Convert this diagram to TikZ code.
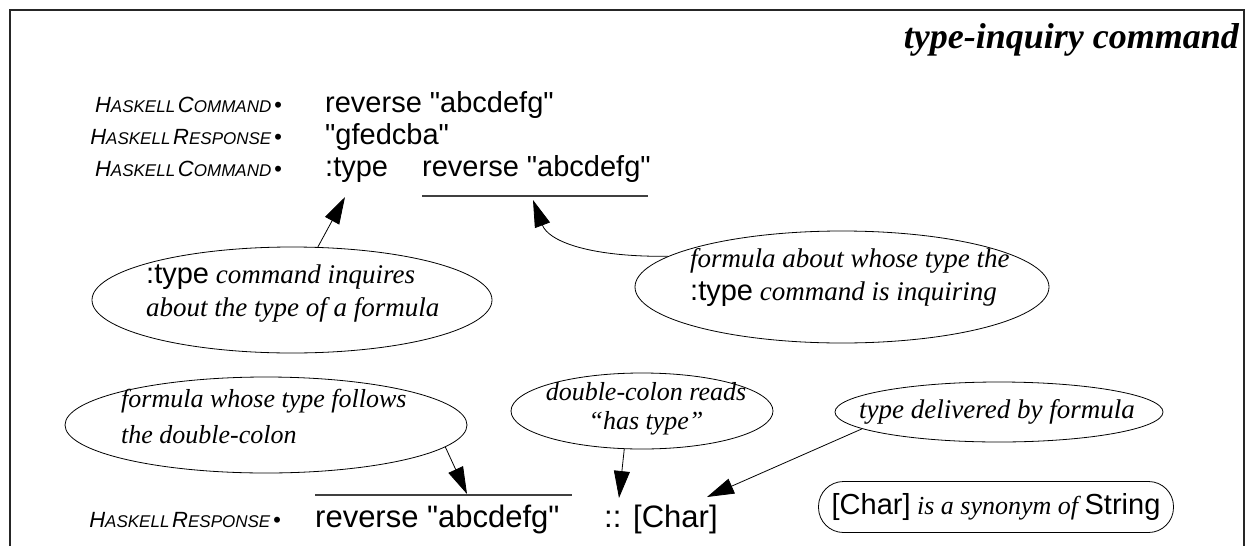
\documentclass[tikz,border=0pt]{standalone}
\usepackage{fontspec}
\setmainfont{Liberation Serif}
\setsansfont{Liberation Sans}[Ligatures=TeXOff]
\usetikzlibrary{shapes.geometric,arrows.meta,calc}
\newcommand{\bigc}[1]{{\fontsize{22}{22}\selectfont #1}}
\newcommand{\smc}[1]{{\fontsize{17}{17}\selectfont #1}}
\newcommand{\HCmd}{\bigc{H}\smc{ASKELL} \bigc{C}\smc{OMMAND} \bigc{•}}
\newcommand{\HRsp}{\bigc{H}\smc{ASKELL} \bigc{R}\smc{ESPONSE} \bigc{•}}
\newcommand{\code}[1]{{\sffamily\upshape\fontsize{29}{29}\selectfont #1}}
\begin{document}
\begin{tikzpicture}[x=1pt,y=-1pt,
  frame/.style={line width=1.2pt,draw=black!85},
  lbl/.style={inner sep=0pt,anchor=base east,font=\sffamily\itshape},
  main/.style={inner sep=0pt,anchor=base west,font=\sffamily\fontsize{29}{29}\selectfont},
  mainb/.style={main,font=\sffamily\fontsize{31}{31}\selectfont},
  bubble/.style={ellipse,draw,line width=0.8pt,inner sep=0pt},
  btext/.style={inner sep=0pt,font=\itshape\fontsize{27}{33}\selectfont},
  arr/.style={line width=0.8pt,-{Triangle[length=27pt,width=16pt]}},
  bar/.style={line width=1.2pt,draw=black!75}]
\useasboundingbox (0,0) rectangle (1249,546);
\draw[frame] (10,546) -- (10,10) -- (1244,10) -- (1244,546);
\node[inner sep=0pt,anchor=base east,font=\bfseries\itshape\fontsize{36}{36}\selectfont] (title) at (1239,48) {type-inquiry command};
% rows
\node[lbl] (l1) at (282,112) {\HCmd};
\node[main] (c1) at (325,112) {reverse "abcdefg"};
\node[lbl] (l2) at (282,144) {\HRsp};
\node[main] (c2) at (325,144) {"gfedcba"};
\node[lbl] (l3) at (282,176) {\HCmd};
\node[main] (ty) at (325,176) {:type};
\node[main] (c3) at (422,176) {reverse "abcdefg"};
\draw[bar] (422,196) -- (648,196);
% ellipses
\node[bubble,minimum width=400pt,minimum height=106pt] (eA) at (292,300) {};
\node[btext,align=left,anchor=west] (tA) at (146,294) {\code{:type} command inquires\\about the type of a formula};
\node[bubble,minimum width=414pt,minimum height=112pt] (eB) at (842,287) {};
\node[btext,align=left,anchor=west] (tB) at (690,277) {formula about whose type the\\\code{:type} command is inquiring};
\node[bubble,minimum width=402pt,minimum height=96pt] (eC) at (266,425) {};
\node[btext,align=left,anchor=west,font=\itshape\fontsize{26}{36}\selectfont] (tC) at (121,416) {formula whose type follows\\the double-colon};
\node[bubble,minimum width=262pt,minimum height=76pt] (eD) at (642,411) {};
\node[btext,align=center,font=\itshape\fontsize{26}{29}\selectfont] (tD) at (646,409) {double-colon reads\\“has type”};
\node[bubble,minimum width=328pt,minimum height=60pt] (eE) at (999,412) {};
\node[btext] (tE) at (997,412) {type delivered by formula};
\node[draw,line width=0.8pt,rounded corners=25pt,minimum width=355pt,minimum height=51pt,inner sep=0pt,font=\itshape\fontsize{26}{26}\selectfont] (syn) at (996,507) {\code{[Char]} is a synonym of \code{String}};
% bottom row
\node[lbl] (l4) at (281,527) {\HRsp};
\node[mainb] (c4) at (315,527) {reverse "abcdefg"};
\node[mainb] (dc) at (604,527) {::};
\node[mainb] (ch) at (633,527) {[Char]};
\draw[bar] (315,495) -- (572,495);
% connector ends
\coordinate (pA) at (345,197);
\coordinate (pB) at (533,200);
\coordinate (pC) at (467,494);
\coordinate (pD) at (619,498);
\coordinate (pE) at (707,497);
\draw[arr] (eA.64) -- (pA);
\draw[arr] (eB.170) .. controls (585,257) and (548,240) .. (pB);
\draw[arr] (eC.-7) -- (pC);
\draw[arr] (eD.-115) -- (pD);
\draw[arr] (eE.-173) -- (pE);
\end{tikzpicture}
\end{document}
